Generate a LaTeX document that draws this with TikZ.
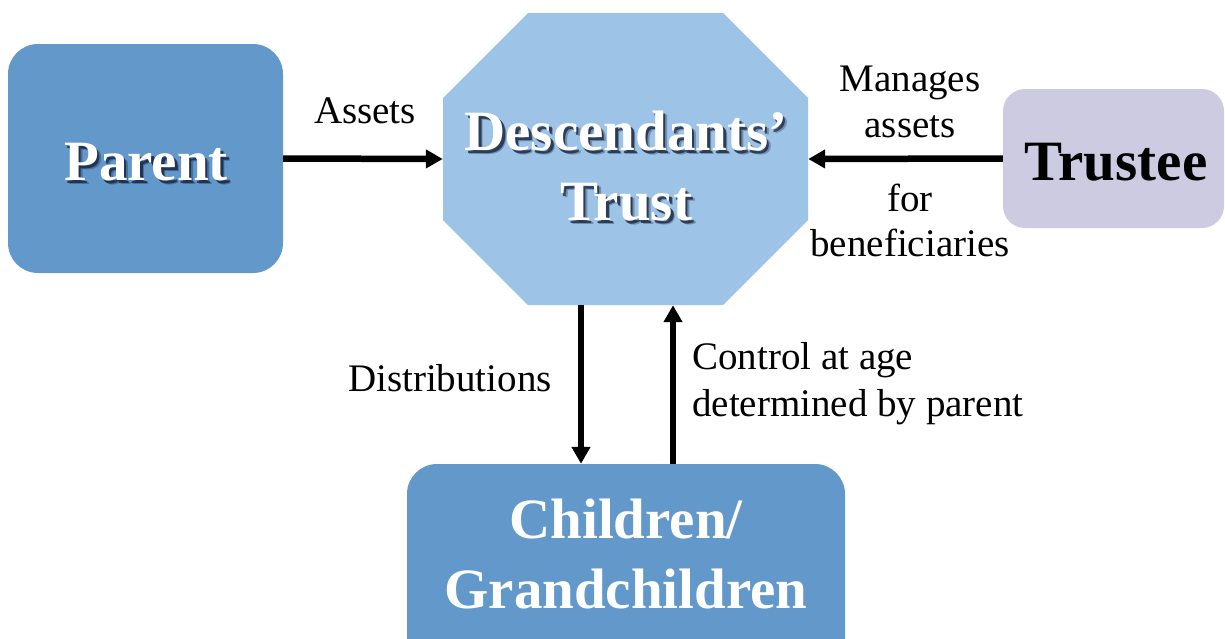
\documentclass[tikz,border=0pt]{standalone}
\usepackage{fontspec}
\setmainfont{Liberation Serif}
\usetikzlibrary{arrows.meta,calc}
\definecolor{boxblue}{HTML}{6398CB}
\definecolor{octblue}{HTML}{9DC3E6}
\definecolor{lav}{HTML}{CDCBE1}
\definecolor{shade}{HTML}{0F1A33}
\tikzset{
 bigtxt/.style={font=\fontsize{57}{69}\selectfont\bfseries, inner sep=0pt, anchor=base},
 lbl/.style={font=\rmfamily\fontsize{39}{47}\selectfont, inner sep=0pt},
 arr/.style={line width=6.5pt, -{Triangle[length=17pt,width=18pt]}},
 rbox/.style={rounded corners=30pt, inner sep=0pt},
 shd/.style={bigtxt, text=shade, opacity=0.7},
 shdb/.style={bigtxt, text=shade, opacity=0.3},
}
\begin{document}
\begin{tikzpicture}[x=1pt,y=-1pt]
\useasboundingbox (0,0) rectangle (1225,638);
% Parent
\node[rbox, fill=boxblue, minimum width=275pt, minimum height=229pt] (parent) at (145.5,158.5) {};
\node[shdb] (parentshd2) at (150,184.5) {Parent};
\node[shd] (parentshd) at (148.5,183) {Parent};
\node[bigtxt, text=white] (parenttxt) at (146,180) {Parent};
% Trust octagon
\node[inner sep=0pt, minimum width=365pt, minimum height=292pt] (trust) at (625.5,159) {};
\fill[octblue] (528,13) -- (723,13) -- (808,98) -- (808,220) -- (723,305) -- (528,305) -- (443,220) -- (443,98) -- cycle;
\node[shdb] (trustshd1b) at (630,154.5) {Descendants’};
\node[shd] (trustshd1) at (628.5,153) {Descendants’};
\node[shdb] (trustshd2b) at (630,224.5) {Trust};
\node[shd] (trustshd2) at (628.5,223) {Trust};
\node[bigtxt, text=white] (trusttxt1) at (626,150) {Descendants’};
\node[bigtxt, text=white] (trusttxt2) at (626,220) {Trust};
% Trustee
\node[rbox, rounded corners=22pt, fill=lav, minimum width=221pt, minimum height=139pt] (trustee) at (1113.5,158.5) {};
\node[bigtxt, text=black] (trusteetxt) at (1116,180) {Trustee};
% Children
\node[rbox, fill=boxblue, minimum width=438pt, minimum height=216pt] (kids) at (626,572) {};
\node[bigtxt, text=white] (kidstxt1) at (626,538) {Children/};
\node[bigtxt, text=white] (kidstxt2) at (626,608) {Grandchildren};
% arrows
\draw[arr] (parent.east) -- (trust.west);
\draw[arr] (trustee.west) -- (trust.east);
\coordinate (dx) at (581,0);
\coordinate (ux) at (673,0);
\draw[arr] (dx |- trust.south) -- (dx |- kids.north);
\draw[arr] (ux |- kids.north) -- (ux |- trust.south);
% labels
\node[lbl, anchor=base] (assets) at (365,123) {Assets};
\node[lbl, anchor=base] (man1) at (910,91) {Manages};
\node[lbl, anchor=base] (man2) at (910,137) {assets};
\node[lbl, anchor=base] (for1) at (910,211) {for};
\node[lbl, anchor=base] (for2) at (910,256) {beneficiaries};
\node[lbl, anchor=base east] (dist) at (552,391) {Distributions};
\node[lbl, anchor=base west] (ctl1) at (692,369) {Control at age};
\node[lbl, anchor=base west] (ctl2) at (692,416) {determined by parent};
\end{tikzpicture}
\end{document}
